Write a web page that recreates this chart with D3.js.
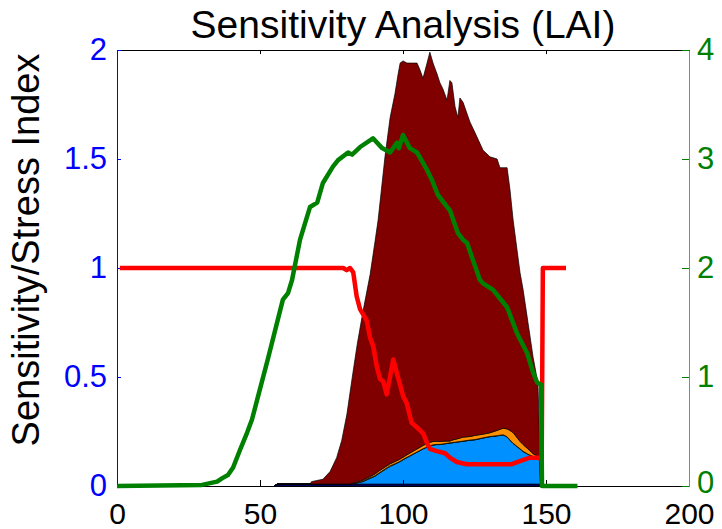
<!DOCTYPE html>
<html>
<head>
<meta charset="utf-8">
<script src="https://cdn.jsdelivr.net/npm/d3@7"></script>
<style>
  body { margin: 0; background: #fff; }
  text { font-family: "Liberation Sans", Arial, Helvetica, sans-serif; }
</style>
</head>
<body>
<svg id="chart" width="722" height="529"></svg>
<script>
// ---- stacked stress components (left axis), one value per layer per day ----
const stackDays = [55, 56, 67.5, 68, 72, 74.5, 76.8, 78.6, 80.4, 81.5,
  82.5, 84, 86, 88.5, 90.2, 91.3, 93.7, 95.5, 97.2, 98.3,
  99, 100, 101.4, 104.9, 105.9, 107, 108.4, 109.4, 110.5, 111.9,
  112.9, 114, 115.4, 116.4, 117.1, 118.2, 119.2, 119.9, 121, 123.4,
  125.2, 128, 130.4, 132.9, 133.9, 135, 136.4, 137.4, 138.5, 140.9,
  142, 143.7, 145.5, 147.2, 147.9, 148.1];

const layerNavy = [0, 0.009, 0.009, 0.009, 0.009, 0.009, 0.009, 0.009, 0.009, 0.009,
  0.009, 0.009, 0.009, 0.009, 0.009, 0.009, 0.009, 0.009, 0.009, 0.009,
  0.009, 0.009, 0.009, 0.009, 0.009, 0.009, 0.009, 0.009, 0.009, 0.009,
  0.009, 0.009, 0.009, 0.009, 0.009, 0.009, 0.009, 0.009, 0.009, 0.009,
  0.009, 0.009, 0.009, 0.009, 0.009, 0.009, 0.009, 0.009, 0.009, 0.009,
  0.009, 0.009, 0.009, 0.009, 0.009, 0];

const layerBlue = [0, 0, 0, 0, 0, 0, 0, 0, 0, 0,
  0.001, 0.005, 0.011, 0.026, 0.036, 0.046, 0.066, 0.081, 0.091, 0.098,
  0.103, 0.111, 0.121, 0.146, 0.153, 0.161, 0.169, 0.174, 0.179, 0.181,
  0.181, 0.183, 0.186, 0.188, 0.189, 0.191, 0.193, 0.194, 0.196, 0.201,
  0.203, 0.211, 0.217, 0.221, 0.223, 0.225, 0.216, 0.201, 0.186, 0.161,
  0.149, 0.136, 0.126, 0.119, 0.117, 0];

const layerGreen = [0, 0, 0, 0, 0, 0, 0, 0, 0, 0,
  0, 0.001, 0.002, 0.003, 0.002, 0.002, 0.003, 0.003, 0.002, 0.002,
  0.002, 0.002, 0.002, 0.001, 0.001, 0.001, 0.001, 0.001, 0.001, 0.001,
  0.001, 0.001, 0.001, 0.001, 0.001, 0.001, 0.001, 0.001, 0.001, 0.001,
  0.001, 0.001, 0.001, 0.001, 0.001, 0.001, 0.001, 0.001, 0.001, 0.001,
  0.001, 0.001, 0.001, 0.001, 0.001, 0];

const layerOrange = [0, 0, 0, 0, 0, 0, 0, 0, 0, 0,
  0.003, 0.004, 0.005, 0.006, 0.008, 0.009, 0.009, 0.009, 0.010, 0.010,
  0.010, 0.010, 0.011, 0.014, 0.014, 0.015, 0.016, 0.016, 0.015, 0.014,
  0.013, 0.012, 0.010, 0.008, 0.011, 0.013, 0.014, 0.016, 0.018, 0.016,
  0.019, 0.017, 0.017, 0.024, 0.027, 0.030, 0.036, 0.044, 0.049, 0.034,
  0.031, 0.024, 0.012, 0.006, 0.003, 0];

const layerMaroon = [0, 0, 0, 0.011, 0.022, 0.057, 0.121, 0.201, 0.321, 0.421,
  0.507, 0.631, 0.773, 0.926, 1.065, 1.154, 1.423, 1.588, 1.688, 1.771,
  1.816, 1.818, 1.797, 1.770, 1.733, 1.684, 1.745, 1.790, 1.736, 1.685,
  1.646, 1.615, 1.564, 1.654, 1.640, 1.526, 1.473, 1.560, 1.536, 1.443,
  1.388, 1.302, 1.266, 1.245, 1.200, 1.195, 1.198, 1.105, 0.975, 0.775,
  0.710, 0.580, 0.442, 0.335, 0.010, 0];

// ---- sensitivity / stress index (left axis) ----
const stressDays = [1, 79.1, 80.3, 81.5, 82.6, 83.8, 85, 87.3, 88.5, 89.6,
  90.8, 92, 93.1, 94.3, 96.6, 97.8, 100.1, 101.3, 103, 104.8,
  107.1, 108.3, 109.4, 111.8, 114.7, 116.4, 118.8, 122.3, 138, 142.1,
  144.4, 147.3, 148.5, 148.9, 157];
const stressIndex = [1, 1, 0.99, 1, 0.98, 0.87, 0.81, 0.76, 0.68, 0.64,
  0.55, 0.49, 0.48, 0.42, 0.58, 0.52, 0.41, 0.38, 0.29, 0.27,
  0.24, 0.20, 0.17, 0.16, 0.15, 0.13, 0.11, 0.10, 0.10, 0.12,
  0.13, 0.13, 0.12, 1, 1];

// ---- LAI (right axis) ----
const laiDays = [0, 29.7, 35, 36.7, 38.8, 40.6, 43, 45.5, 47.2, 49,
  52.8, 58, 59.8, 61.2, 64, 67.5, 70, 72, 75.5, 77.3,
  80.8, 82.2, 85, 89.5, 92.7, 95.5, 97.9, 98.6, 100, 102.4,
  104.9, 108.4, 110.1, 112.2, 115.4, 116.4, 119.2, 121, 122.4, 124.5,
  126.9, 128, 131.5, 136.4, 139.9, 143.4, 145.5, 146.9, 148.3, 148.6,
  161];
const laiValues = [0, 0.01, 0.04, 0.07, 0.10, 0.17, 0.33, 0.49, 0.61, 0.79,
  1.17, 1.71, 1.77, 1.89, 2.26, 2.56, 2.60, 2.78, 2.93, 2.99,
  3.06, 3.04, 3.11, 3.19, 3.10, 3.06, 3.15, 3.10, 3.22, 3.10,
  3.06, 2.90, 2.81, 2.67, 2.56, 2.53, 2.32, 2.26, 2.23, 2.07,
  1.89, 1.86, 1.80, 1.64, 1.40, 1.22, 1.04, 0.95, 0.93, 0,
  0];

// ---- axes ----
const xTicks = [0, 50, 100, 150, 200];
const leftTicks = [0, 0.5, 1, 1.5, 2];
const rightTicks = [0, 1, 2, 3, 4];
const layerKeys = ["navy", "blue", "green", "orange", "maroon"];
const layerColors = ["#000090", "#0090ff", "#8fff70", "#ff9000", "#800000"];

const svg = d3.select("#chart");
const plot = { left: 117, right: 689, top: 50, bottom: 486 };

const x = d3.scaleLinear().domain([0, 200]).range([plot.left, plot.right]);
const yL = d3.scaleLinear().domain([0, 2]).range([plot.bottom, plot.top]);
const yR = d3.scaleLinear().domain([0, 4]).range([plot.bottom, plot.top]);

// stacked areas
const rows = stackDays.map((d, i) => ({
  day: d,
  navy: layerNavy[i],
  blue: layerBlue[i],
  green: layerGreen[i],
  orange: layerOrange[i],
  maroon: layerMaroon[i]
}));
const series = d3.stack().keys(layerKeys)(rows);
const area = d3.area()
  .x(d => x(d.data.day))
  .y0(d => yL(d[0]))
  .y1(d => yL(d[1]));

svg.append("g")
  .selectAll("path")
  .data(series)
  .join("path")
  .attr("d", area)
  .attr("fill", (d, i) => layerColors[i])
  .attr("stroke", "#000")
  .attr("stroke-width", 0.7)
  .attr("stroke-linejoin", "round");

// axes
const styleTicks = (g, color, size) => {
  g.selectAll(".tick line").attr("stroke", color);
  g.selectAll(".tick text").attr("fill", color).style("font-size", size + "px")
    .style("font-family", '"Liberation Sans", Arial, sans-serif');
};

const gTop = svg.append("g").attr("transform", `translate(0,${plot.top})`)
  .call(d3.axisTop(x).tickValues(xTicks).tickSizeInner(-4).tickSizeOuter(0).tickFormat(""));
gTop.select(".domain").attr("stroke", "#000");
gTop.selectAll(".tick line").attr("stroke", "#000");

const gBottom = svg.append("g").attr("transform", `translate(0,${plot.bottom})`)
  .call(d3.axisBottom(x).tickValues(xTicks).tickSizeInner(-6).tickSizeOuter(0).tickPadding(17).tickFormat(d3.format("d")));
gBottom.select(".domain").attr("stroke", "#000");
styleTicks(gBottom, "#000", 30);

const gLeft = svg.append("g").attr("transform", `translate(${plot.left},0)`)
  .call(d3.axisLeft(yL).tickValues(leftTicks).tickSizeInner(-4).tickSizeOuter(0).tickPadding(10).tickFormat(d => String(d)));
gLeft.select(".domain").attr("stroke", "#0000ff");
styleTicks(gLeft, "#0000ff", 31);

const gRight = svg.append("g").attr("transform", `translate(${plot.right},0)`)
  .call(d3.axisRight(yR).tickValues(rightTicks).tickSizeInner(-7).tickSizeOuter(0).tickPadding(8).tickFormat(d3.format("d")));
gRight.select(".domain").attr("stroke", "#5f8fbf");
styleTicks(gRight, "#008000", 31);
// lift the lowest right label a little so it clears the bottom tick labels
gRight.selectAll(".tick text").filter(d => d === 0).attr("dy", "0.2em");

// stress index line
svg.append("path")
  .datum(stressDays.map((d, i) => [d, stressIndex[i]]))
  .attr("d", d3.line().x(d => x(d[0])).y(d => yL(d[1])))
  .attr("fill", "none")
  .attr("stroke", "#ff0000")
  .attr("stroke-width", 4.5)
  .attr("stroke-linejoin", "round");

// LAI line
svg.append("path")
  .datum(laiDays.map((d, i) => [d, laiValues[i]]))
  .attr("d", d3.line().x(d => x(d[0])).y(d => yR(d[1])))
  .attr("fill", "none")
  .attr("stroke", "#008000")
  .attr("stroke-width", 4.5)
  .attr("stroke-linejoin", "round");

// title and y label
svg.append("text")
  .attr("x", (plot.left + plot.right) / 2)
  .attr("y", 38)
  .attr("text-anchor", "middle")
  .style("font-size", "39px")
  .attr("fill", "#000")
  .text("Sensitivity Analysis (LAI)");

svg.append("text")
  .attr("transform", "translate(39,250) rotate(-90)")
  .attr("text-anchor", "middle")
  .style("font-size", "38px")
  .attr("fill", "#000")
  .text("Sensitivity/Stress Index");
</script>
</body>
</html>
